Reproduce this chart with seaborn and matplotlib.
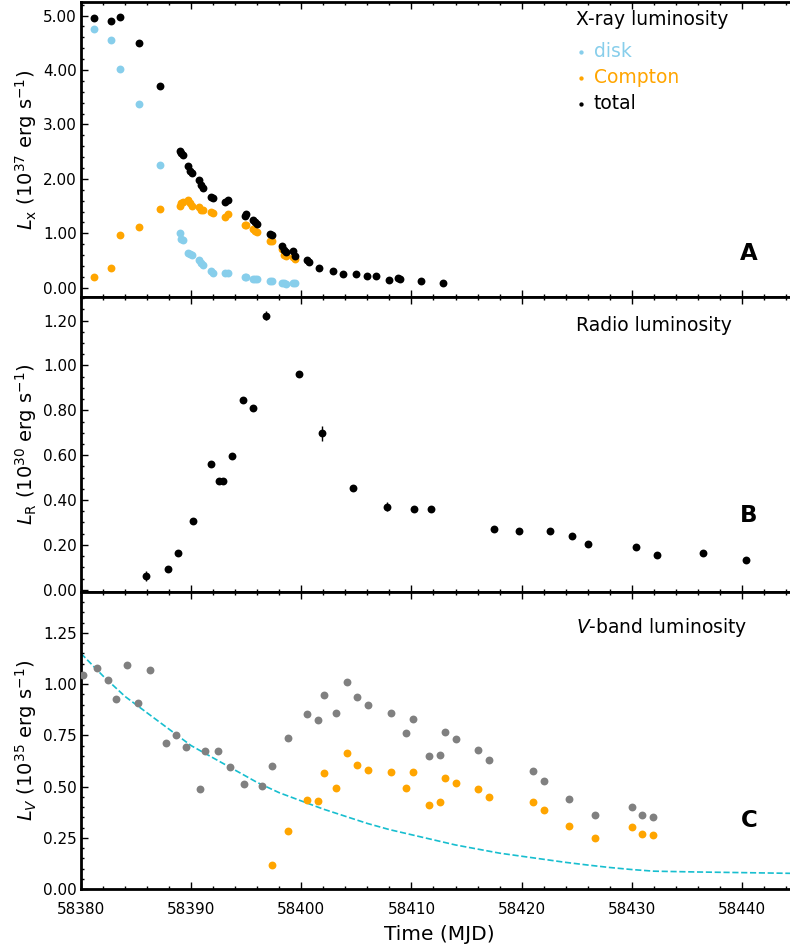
import numpy as np
import pandas as pd
import matplotlib
matplotlib.use("Agg")
import matplotlib.pyplot as plt
import seaborn as sns
from matplotlib.ticker import MultipleLocator, FormatStrFormatter

# ---------------- data ----------------
# Panel A: X-ray luminosity (1e37 erg/s)
xray_t = [58381.2, 58382.75, 58383.54, 58385.3, 58387.2, 58388.98, 58389.1, 58389.3,
          58389.74, 58389.9, 58390.05, 58390.74, 58390.9, 58391.05, 58391.8, 58392.0,
          58393.1, 58393.3, 58394.85, 58395.0, 58395.58, 58395.8, 58395.98, 58397.15,
          58397.3, 58398.27, 58398.45, 58398.65, 58399.27, 58399.42]
disk_L = [4.75, 4.56, 4.02, 3.38, 2.26, 1.00, 0.90, 0.87, 0.64, 0.62, 0.61, 0.51, 0.45,
          0.41, 0.30, 0.28, 0.28, 0.27, 0.19, 0.20, 0.16, 0.16, 0.16, 0.12, 0.12, 0.09,
          0.08, 0.07, 0.08, 0.08]
compton_L = [0.19, 0.36, 0.96, 1.11, 1.44, 1.51, 1.55, 1.57, 1.61, 1.55, 1.51, 1.48,
             1.43, 1.42, 1.39, 1.37, 1.30, 1.36, 1.15, 1.15, 1.08, 1.05, 1.03, 0.86,
             0.85, 0.71, 0.60, 0.58, 0.57, 0.53]
total_t = xray_t + [58400.48, 58400.72, 58401.63, 58402.84, 58403.8, 58405.0, 58405.95,
                    58406.77, 58407.98, 58408.74, 58408.98, 58410.85, 58412.9]
total_L = [4.95, 4.91, 4.98, 4.49, 3.71, 2.51, 2.47, 2.44, 2.24, 2.15, 2.11, 1.98, 1.88,
           1.84, 1.67, 1.64, 1.58, 1.62, 1.32, 1.35, 1.24, 1.20, 1.17, 0.98, 0.96, 0.77,
           0.69, 0.65, 0.67, 0.58] + [0.51, 0.48, 0.37, 0.31, 0.26, 0.26, 0.21, 0.21,
                                      0.15, 0.17, 0.16, 0.12, 0.08]
total_err = [0.0] * 37 + [0.05, 0.0, 0.05, 0.0, 0.0, 0.0]

# Panel B: radio luminosity (1e30 erg/s)
radio_t = [58385.87, 58387.87, 58388.83, 58390.19, 58391.83, 58392.55, 58392.86,
           58393.67, 58394.67, 58395.6, 58396.76, 58399.75, 58401.84, 58404.71,
           58407.8, 58410.22, 58411.76, 58417.5, 58419.77, 58422.62, 58424.6,
           58426.0, 58430.42, 58432.3, 58436.5, 58440.34]
radio_L = [0.062, 0.094, 0.166, 0.307, 0.561, 0.487, 0.484, 0.597, 0.848, 0.81, 1.221,
           0.96, 0.697, 0.455, 0.371, 0.36, 0.36, 0.269, 0.263, 0.264, 0.238, 0.205,
           0.192, 0.155, 0.162, 0.131]
radio_err = [0.022, 0.0, 0.0, 0.0, 0.0, 0.0, 0.0, 0.0, 0.0, 0.0, 0.02, 0.0, 0.035, 0.0,
             0.02, 0.0, 0.0, 0.0, 0.0, 0.0, 0.0, 0.0, 0.0, 0.0, 0.0, 0.0]

# Panel C: V-band luminosity (1e35 erg/s)
vgray_t = [58380.15, 58381.42, 58382.45, 58383.15, 58384.17, 58385.14, 58386.26,
           58387.74, 58388.59, 58389.56, 58390.8, 58391.3, 58392.4, 58393.52, 58394.82,
           58396.4, 58397.37, 58398.8, 58400.48, 58401.5, 58402.08, 58403.14, 58404.14,
           58405.05, 58406.04, 58408.1, 58409.46, 58410.1, 58411.6, 58412.6, 58413.0,
           58414.0, 58416.0, 58417.0, 58421.0, 58422.0, 58424.3, 58426.64, 58430.0,
           58430.97, 58431.97]
vgray_L = [1.046, 1.078, 1.02, 0.926, 1.095, 0.908, 1.067, 0.712, 0.75, 0.693, 0.487,
           0.672, 0.675, 0.596, 0.513, 0.503, 0.601, 0.737, 0.853, 0.827, 0.946, 0.859,
           1.01, 0.938, 0.897, 0.858, 0.761, 0.831, 0.65, 0.653, 0.765, 0.73, 0.68, 0.63,
           0.577, 0.527, 0.438, 0.363, 0.40, 0.36, 0.351]
vorange_t = [58397.37, 58398.8, 58400.48, 58401.5, 58402.08, 58403.14, 58404.14,
             58405.05, 58406.04, 58408.1, 58409.46, 58410.1, 58411.6, 58412.6, 58413.0,
             58414.0, 58416.0, 58417.0, 58421.0, 58422.0, 58424.3, 58426.64, 58430.0,
             58430.97, 58431.97]
vorange_L = [0.116, 0.282, 0.436, 0.431, 0.564, 0.495, 0.663, 0.606, 0.581, 0.573, 0.495,
             0.572, 0.41, 0.426, 0.542, 0.518, 0.487, 0.447, 0.426, 0.387, 0.31, 0.25,
             0.305, 0.27, 0.265]
model_t = [58380, 58382, 58384, 58386, 58388, 58390, 58392, 58394, 58396, 58398, 58400,
           58402, 58404, 58406, 58408, 58410, 58412, 58414, 58416, 58418, 58420, 58422,
           58424, 58426, 58428, 58430, 58432, 58436, 58440, 58445]
model_L = [1.15, 1.04, 0.94, 0.86, 0.78, 0.70, 0.64, 0.58, 0.52, 0.47, 0.43, 0.39, 0.355,
           0.32, 0.29, 0.265, 0.24, 0.215, 0.195, 0.175, 0.16, 0.145, 0.13, 0.117, 0.105,
           0.095, 0.087, 0.083, 0.080, 0.076]

# ---------------- style ----------------
sns.set_style("ticks")
plt.rcParams["font.family"] = ["DejaVu Sans"]
plt.rcParams["mathtext.fontset"] = "dejavusans"
for key in ("text.color", "axes.labelcolor", "xtick.color", "ytick.color",
            "axes.edgecolor"):
    plt.rcParams[key] = "black"

W, H = 790, 949
fig = plt.figure(figsize=(W / 100, H / 100), dpi=100)
left = 81 / W
width = 716 / W
axA = fig.add_axes([left, 1 - 297 / H, width, 295 / H])
axB = fig.add_axes([left, 1 - 592 / H, width, 295 / H], sharex=axA)
axC = fig.add_axes([left, 1 - 889 / H, width, 297 / H], sharex=axA)

ms = 32
# Panel A
sns.scatterplot(x=xray_t, y=disk_L, ax=axA, color="skyblue", s=ms, linewidth=0,
                label="disk", zorder=3)
sns.scatterplot(x=xray_t, y=compton_L, ax=axA, color="orange", s=ms, linewidth=0,
                label="Compton", zorder=4)
sns.scatterplot(x=total_t, y=total_L, ax=axA, color="black", s=ms, linewidth=0,
                label="total", zorder=5)
axA.errorbar(total_t, total_L, yerr=total_err, fmt="none", ecolor="black", elinewidth=1,
             zorder=5)
leg = axA.legend(title="X-ray luminosity", loc="upper left",
                 bbox_to_anchor=(0.691, 0.972), frameon=False, fontsize=13.5,
                 title_fontsize=13.5, markerscale=0.55, handlelength=0.6,
                 handletextpad=0.35, labelspacing=0.38, borderpad=0,
                 borderaxespad=0, alignment="left",
                 labelcolor=["skyblue", "orange", "black"])
leg.get_title().set_color("black")
leg._legend_box.sep = 9

# Panel B
sns.scatterplot(x=radio_t, y=radio_L, ax=axB, color="black", s=ms, linewidth=0, zorder=5)
axB.errorbar(radio_t, radio_L, yerr=radio_err, fmt="none", ecolor="black", elinewidth=1,
             zorder=5)

# Panel C
sns.lineplot(x=model_t, y=model_L, ax=axC, color="#17becf", linestyle="--",
             linewidth=1.2, zorder=2)
sns.scatterplot(x=vgray_t, y=vgray_L, ax=axC, color="gray", s=ms, linewidth=0, zorder=4)
sns.scatterplot(x=vorange_t, y=vorange_L, ax=axC, color="orange", s=ms, linewidth=0,
                zorder=5)

# Titles / labels
axB.text(0.691, 0.905, "Radio luminosity", transform=axB.transAxes, fontsize=13.5,
         ha="left", va="center")
axC.text(0.691, 0.879, "$V$-band luminosity", transform=axC.transAxes, fontsize=13.5,
         ha="left", va="center")
for ax, lab, yy in [(axA, "A", 0.146), (axB, "B", 0.258), (axC, "C", 0.232)]:
    ax.text(0.933, yy, lab, transform=ax.transAxes, fontsize=16.5, fontweight="bold",
            ha="center", va="center")

axA.set_ylabel(r"$L_{\rm x}$ (10$^{37}$ erg s$^{-1}$)", fontsize=14, labelpad=3)
axB.set_ylabel(r"$L_{\rm R}$ (10$^{30}$ erg s$^{-1}$)", fontsize=14, labelpad=3)
axC.set_ylabel(r"$L_{V}$ (10$^{35}$ erg s$^{-1}$)", fontsize=14, labelpad=3)
axC.set_xlabel("Time (MJD)", fontsize=14.5, labelpad=6)

axA.set_xlim(58380, 58445)
axA.set_ylim(-0.17, 5.25)
axB.set_ylim(-0.01, 1.305)
axC.set_ylim(0, 1.45)

axC.xaxis.set_major_locator(MultipleLocator(10))
axC.xaxis.set_minor_locator(MultipleLocator(2))
axA.yaxis.set_major_locator(MultipleLocator(1.0))
axA.yaxis.set_minor_locator(MultipleLocator(0.2))
axB.yaxis.set_major_locator(MultipleLocator(0.2))
axB.yaxis.set_minor_locator(MultipleLocator(0.05))
axC.yaxis.set_major_locator(MultipleLocator(0.25))
axC.yaxis.set_minor_locator(MultipleLocator(0.05))

for ax in (axA, axB, axC):
    ax.yaxis.set_major_formatter(FormatStrFormatter("%.2f"))
    ax.tick_params(which="both", direction="in", top=True, right=True, labelsize=11,
                   width=1, colors="black")
    ax.tick_params(axis="y", which="both", pad=3)
    ax.tick_params(axis="x", which="both", pad=9)
    ax.tick_params(which="major", length=5)
    ax.tick_params(which="minor", length=2.5)
    for sp in ax.spines.values():
        sp.set_linewidth(2.0)
        sp.set_color("black")
        sp.set_visible(True)
for ax in (axA, axB):
    ax.tick_params(labelbottom=False)
axC.xaxis.set_major_formatter(FormatStrFormatter("%d"))

fig.savefig("out.png", dpi=100)
